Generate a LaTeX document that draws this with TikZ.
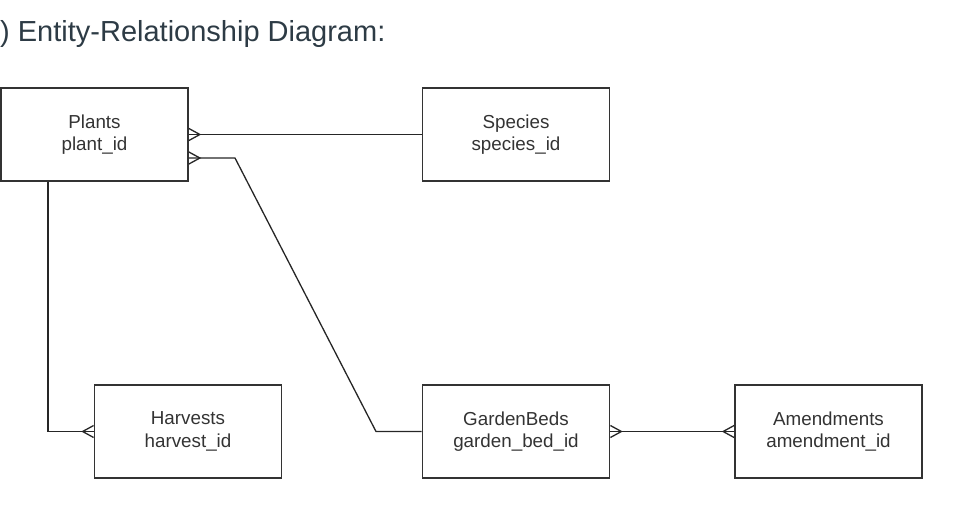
\documentclass[tikz,border=0pt]{standalone}
\usepackage{fontspec}
\setmainfont{Liberation Sans}
\usetikzlibrary{arrows.meta}
\definecolor{titlegray}{HTML}{2D3B45}
\definecolor{textgray}{HTML}{333333}
% many-side crow's foot, the line runs on to the box
\pgfdeclarearrow{
  name = Crow,
  parameters = {\the\pgfarrowlength,\the\pgfarrowwidth},
  setup code = {
    \pgfarrowssettipend{0pt}
    \pgfarrowssetlineend{0pt}
    \pgfarrowssetvisualbackend{-\pgfarrowlength}
    \pgfarrowssetbackend{-\pgfarrowlength}
    \pgfarrowsupperhullpoint{0pt}{.5\pgfarrowwidth}
    \pgfarrowsupperhullpoint{-\pgfarrowlength}{0pt}
    \pgfarrowssavethe\pgfarrowlength
    \pgfarrowssavethe\pgfarrowwidth
  },
  drawing code = {
    \pgfpathmoveto{\pgfqpoint{0pt}{.5\pgfarrowwidth}}
    \pgfpathlineto{\pgfqpoint{-\pgfarrowlength}{0pt}}
    \pgfpathlineto{\pgfqpoint{0pt}{-.5\pgfarrowwidth}}
    \pgfusepathqstroke
  },
  defaults = {length=11pt, width=12pt}
}
\tikzset{
  entity/.style={draw=black!80, line width=1.8pt, minimum width=187pt, minimum height=93pt,
    align=center, text=textgray, font=\fontsize{18.8}{22.4}\selectfont},
  rel/.style={draw=black!85, line width=1.3pt}
}
\begin{document}
\begin{tikzpicture}[x=1pt, y=-1pt]
\useasboundingbox (0,0) rectangle (967,528);
\node[anchor=base west, inner sep=0, text=titlegray, font=\fontsize{29}{34}\selectfont] (title) at (0,41.7) {) Entity-Relationship Diagram:};
% entities
\node[entity] (plants) at (94.5,134.5) {Plants\\plant\_id};
\node[entity] (species) at (516,134.5) {Species\\species\_id};
\node[entity] (harvests) at (188,431.5) {Harvests\\harvest\_id};
\node[entity] (beds) at (516,431.5) {GardenBeds\\garden\_bed\_id};
\node[entity] (amend) at (828.5,431.5) {Amendments\\amendment\_id};
% relationships
\coordinate (kink1) at (235,158);
\coordinate (kink2) at (376,431.5);
\coordinate (corner) at (48,431.5);
\draw[rel, Crow-] (plants) -- (species);
\draw[rel, Crow-] (plants.east |- kink1) -- (kink1) -- (kink2) -- (beds);
\draw[rel, -Crow] (plants.south -| corner) -- (corner) -- (harvests);
\draw[rel, Crow-Crow] (beds) -- (amend);
\end{tikzpicture}
\end{document}
